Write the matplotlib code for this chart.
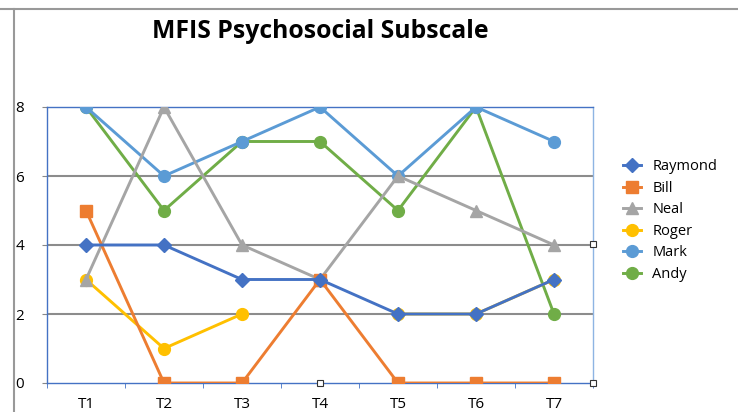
import numpy as np
import matplotlib.pyplot as plt
from matplotlib.lines import Line2D

plt.rcParams['font.family'] = ['Open Sans', 'DejaVu Sans']

periods = ['T1', 'T2', 'T3', 'T4', 'T5', 'T6', 'T7']
names = ['Raymond', 'Bill', 'Neal', 'Roger', 'Mark', 'Andy']
raymond = [4, 4, 3, 3, 2, 2, 3]
bill = [5, 0, 0, 3, 0, 0, 0]
neal = [3, 8, 4, 3, 6, 5, 4]
roger = [3, 1, 2, np.nan, 2, 2, 3]
mark = [8, 6, 7, 8, 6, 8, 7]
andy = [8, 5, 7, 7, 5, 8, 2]

series = [raymond, bill, neal, roger, mark, andy]
colors = ['#4472C4', '#ED7D31', '#A5A5A5', '#FFC000', '#5B9BD5', '#70AD47']
markers = ['D', 's', '^', 'o', 'o', 'o']
msizes = [7, 8, 8, 8.5, 8.5, 8.5]

fig = plt.figure(figsize=(7.38, 4.12), dpi=100)
ax = fig.add_axes([47 / 738, 1 - 383 / 412, 546 / 738, 276 / 412])

x = np.arange(1, len(periods) + 1)
# reverse order so Raymond ends up on top, like the original
for i in reversed(range(len(series))):
    ax.plot(x, series[i], color=colors[i], lw=2.1, marker=markers[i],
            ms=msizes[i], zorder=3 + (len(series) - i))

ax.set_xlim(0.5, 7.5)
ax.set_ylim(0, 8)
ax.set_yticks([0, 2, 4, 6, 8])
ax.set_xticks(x)
ax.set_xticklabels(periods)
ax.set_xticks(np.arange(0.5, 8, 1), minor=True)
ax.tick_params(axis='x', which='major', length=0, labelsize=11, pad=10)
ax.tick_params(axis='x', which='minor', length=3.6, color='#4472C4', direction='out')
ax.tick_params(axis='y', length=3.6, color='#888888', labelsize=11, pad=19)
for t in ax.get_yticklabels():
    t.set_horizontalalignment('left')

for yv in [2, 4, 6]:
    ax.axhline(yv, color='#8c8c8c', lw=1.5, zorder=1)
for s in ax.spines.values():
    s.set_color('#4472C4')
    s.set_linewidth(1)
ax.spines['right'].set_color('#8EB4E3')

handles = [Line2D([0], [0], color=colors[i], lw=2.1, marker=markers[i],
                  ms=msizes[i]) for i in range(len(series))]
fig.legend(handles, names, loc='upper left', bbox_to_anchor=(610 / 738, 1 - 146 / 412),
           frameon=False, fontsize=10.5, handlelength=1.2, labelspacing=0.45,
           handletextpad=0.8)

fig.text(320 / 738, 1 - 31 / 412, 'MFIS Psychosocial Subscale', ha='center',
         va='center', fontsize=17.8, fontweight='bold')

# outer chart border and selection handles
fig.add_artist(Line2D([0, 1], [1 - 9 / 412] * 2, color='#999999', lw=1.5))
fig.add_artist(Line2D([14 / 738] * 2, [0, 1 - 9 / 412], color='#999999', lw=1.5))
for hx, hy in [(320, 383), (593, 383), (593, 244)]:
    fig.add_artist(Line2D([hx / 738], [1 - hy / 412], marker='s', ms=5,
                          mfc='white', mec='#333333', mew=0.8, ls='none'))

fig.savefig('out.png', dpi=100)
